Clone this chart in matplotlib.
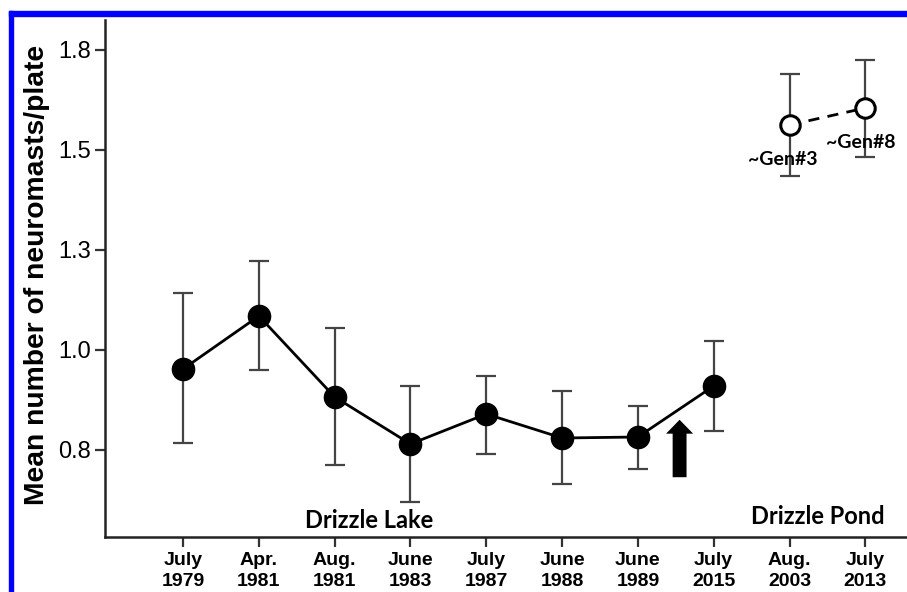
import matplotlib
matplotlib.use("Agg")
import matplotlib.pyplot as plt
from matplotlib.patches import Rectangle

# Data
tick_labels = ["July\n1979", "Apr.\n1981", "Aug.\n1981", "June\n1983", "July\n1987",
               "June\n1988", "June\n1989", "July\n2015", "Aug.\n2003", "July\n2013"]
lake_means = [0.9525, 1.085, 0.8825, 0.765, 0.84, 0.78, 0.7825, 0.91]
lake_upper = [1.1425, 1.2225, 1.055, 0.91, 0.935, 0.8975, 0.86, 1.0225]
lake_lower = [0.7675, 0.95, 0.7125, 0.62, 0.74, 0.665, 0.7025, 0.7975]
pond_means = [1.5625, 1.605]
pond_upper = [1.69, 1.725]
pond_lower = [1.435, 1.4825]
pond_labels = ["~Gen#3", "~Gen#8"]
ytick_vals = [0.75, 1.0, 1.25, 1.5, 1.75]
ytick_labels = ["0.8", "1.0", "1.3", "1.5", "1.8"]

fig = plt.figure(figsize=(9.07, 5.92), dpi=100)
ax = fig.add_axes([105/907, 1-537/592, 1-105/907, (537-20)/592])

xl = list(range(len(lake_means)))
xp = [len(lake_means) + i for i in range(len(pond_means))]

err_kw = dict(fmt="none", ecolor="#444444", elinewidth=1.6, capsize=7, capthick=1.6, zorder=2)
ax.errorbar(xl, lake_means,
            yerr=[[m - l for m, l in zip(lake_means, lake_lower)],
                  [u - m for m, u in zip(lake_means, lake_upper)]], **err_kw)
ax.errorbar(xp, pond_means,
            yerr=[[m - l for m, l in zip(pond_means, pond_lower)],
                  [u - m for m, u in zip(pond_means, pond_upper)]], **err_kw)
ax.plot(xl, lake_means, "-", color="black", lw=2.0, marker="o", ms=16,
        mfc="black", mec="black", zorder=3)
ax.plot(xp, pond_means, "--", color="black", lw=2.0, dashes=(4, 3), zorder=3)
ax.plot(xp, pond_means, "o", ms=14, mfc="white", mec="black", mew=2.2, zorder=4)

# Gen labels
ax.annotate(pond_labels[0], (xp[0], pond_means[0]), xytext=(-5, -24.5), textcoords="offset points",
            ha="center", va="center", fontsize=14, fontweight="bold", family="Lato", zorder=5)
ax.annotate(pond_labels[1], (xp[1], pond_means[1]), xytext=(-3, -25), textcoords="offset points",
            ha="center", va="center", fontsize=14, fontweight="bold", family="Lato", zorder=5)

# arrow
ax.annotate("", xy=(6.55, 0.8325), xytext=(6.55, 0.675),
            arrowprops=dict(arrowstyle="simple,head_length=1.0,head_width=1.95,tail_width=1.0",
                            color="black", lw=0))

ax.text(2.45, 0.575, "Drizzle Lake", ha="center", va="center", fontsize=17,
        fontweight="bold", family="Lato")
ax.text(8.38, 0.583, "Drizzle Pond", ha="center", va="center", fontsize=17,
        fontweight="bold", family="Lato")

ax.set_xlim(-1.03, 9.55)
ax.set_ylim(0.5325, 1.825)
ax.set_xticks(range(len(tick_labels)))
ax.set_xticklabels(tick_labels, fontsize=14, fontweight="bold", family="Liberation Sans",
                   linespacing=1.3)
ax.set_yticks(ytick_vals)
ax.set_yticklabels(ytick_labels, fontsize=17, family="Liberation Sans")
ax.set_ylabel("Mean number of neuromasts/plate", fontsize=20.3, fontweight="bold",
              family="Liberation Sans")
ax.yaxis.set_label_coords(-0.068, 0.507)

for s in ["top", "right"]:
    ax.spines[s].set_visible(False)
for s in ["left", "bottom"]:
    ax.spines[s].set_linewidth(1.8)
    ax.spines[s].set_color("#222222")
ax.tick_params(axis="both", length=7, width=1.6, color="#333333", pad=3)
ax.tick_params(axis="x", pad=4)

# blue border
fig.patches.append(Rectangle((9/907, 0), 4/907, 1-11/592, transform=fig.transFigure,
                             color="#0000ff", zorder=10))
fig.patches.append(Rectangle((9/907, 1-16/592), 1, 5/592, transform=fig.transFigure,
                             color="#0000ff", zorder=10))

fig.savefig("out.png", dpi=100)
